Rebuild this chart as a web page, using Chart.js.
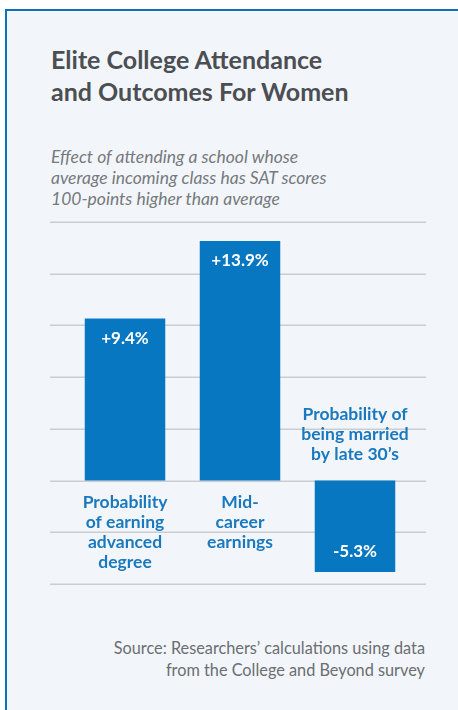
<!DOCTYPE html>
<html>
<head>
<meta charset="utf-8">
<script src="https://cdn.jsdelivr.net/npm/chart.js@4.4.0/dist/chart.umd.min.js"></script>
<style>
  html, body { margin: 0; padding: 0; background: #ffffff; }
  body { width: 458px; height: 710px; position: relative; overflow: hidden; font-family: Lato, sans-serif; }
  .card { position: absolute; left: 5px; top: 9px; width: 470px; height: 720px;
          background: #f2f6fa; border-left: 2px solid #0a72bd; border-top: 2px solid #0a72bd; }
  .title { position: absolute; left: 51px; top: 43px; font-size: 25px; font-weight: 700;
           color: #4b4e52; line-height: 32px; }
  .sub { position: absolute; left: 51px; top: 146px; font-size: 17.5px; font-style: italic;
         color: #76797d; line-height: 21px; }
  .src { position: absolute; right: 33px; top: 637px; font-size: 16.3px; color: #6b6e72;
         line-height: 22px; text-align: right; }
  canvas { position: absolute; left: 0; top: 0; }
</style>
</head>
<body>
<div class="card"></div>
<div class="title">Elite College Attendance<br>and Outcomes For Women</div>
<div class="sub">Effect of attending a school whose<br>average incoming class has SAT scores<br>100-points higher than average</div>
<div class="src">Source: Researchers’ calculations using data<br>from the College and Beyond survey</div>
<canvas id="myChart" width="458" height="710"></canvas>
<script>
// 資料
const categories = [
  ['Probability', 'of earning', 'advanced', 'degree'],
  ['Mid-', 'career', 'earnings'],
  ['Probability of', 'being married', 'by late 30’s']
];
const effects = [9.4, 13.9, -5.3];
const valueLabels = ['+9.4%', '+13.9%', '-5.3%'];
const yMin = -6, yMax = 15, yStep = 3;

const barBlue = '#0877c1';
const textBlue = '#1a79be';

// 格線畫得比柱狀區寬一點
const gridPlugin = {
  id: 'wideGrid',
  beforeDatasetsDraw(chart) {
    const ctx = chart.ctx;
    const y = chart.scales.y;
    ctx.save();
    ctx.strokeStyle = '#c9ccd0';
    ctx.lineWidth = 1.5;
    for (let v = yMin; v <= yMax; v += yStep) {
      const py = Math.round(y.getPixelForValue(v)) + 0.25;
      ctx.beginPath();
      ctx.moveTo(50, py);
      ctx.lineTo(426, py);
      ctx.stroke();
    }
    ctx.restore();
  }
};

// 數值標籤和類別標籤
const labelPlugin = {
  id: 'barLabels',
  afterDatasetsDraw(chart) {
    const ctx = chart.ctx;
    const meta = chart.getDatasetMeta(0);
    const zero = chart.scales.y.getPixelForValue(0);
    ctx.save();
    ctx.textAlign = 'center';
    ctx.textBaseline = 'middle';
    meta.data.forEach((bar, i) => {
      const val = effects[i];
      ctx.fillStyle = '#ffffff';
      ctx.font = '700 17px Lato';
      if (val >= 0) {
        ctx.fillText(valueLabels[i], bar.x, bar.y + 20);
      } else {
        ctx.fillText(valueLabels[i], bar.x, bar.y - 20);
      }
      ctx.fillStyle = textBlue;
      ctx.font = '700 17.5px Lato';
      const lines = categories[i];
      if (val >= 0) {
        lines.forEach((t, k) => ctx.fillText(t, bar.x, zero + 22 + k * 20));
      } else {
        lines.forEach((t, k) => ctx.fillText(t, bar.x, zero - 26 - (lines.length - 1 - k) * 20));
      }
    });
    ctx.restore();
  }
};

const ctx = document.getElementById('myChart').getContext('2d');
new Chart(ctx, {
  type: 'bar',
  data: {
    labels: categories.map(c => c.join(' ')),
    datasets: [{
      data: effects,
      backgroundColor: barBlue,
      barPercentage: 0.7,
      categoryPercentage: 1.0
    }]
  },
  options: {
    responsive: false,
    animation: false,
    layout: { padding: { left: 67.5, right: 45.5, top: 222, bottom: 126 } },
    plugins: { legend: { display: false }, tooltip: { enabled: false } },
    scales: {
      x: { display: false },
      y: { display: false, min: yMin, max: yMax, ticks: { stepSize: yStep } }
    }
  },
  plugins: [gridPlugin, labelPlugin]
});
</script>
</body>
</html>
